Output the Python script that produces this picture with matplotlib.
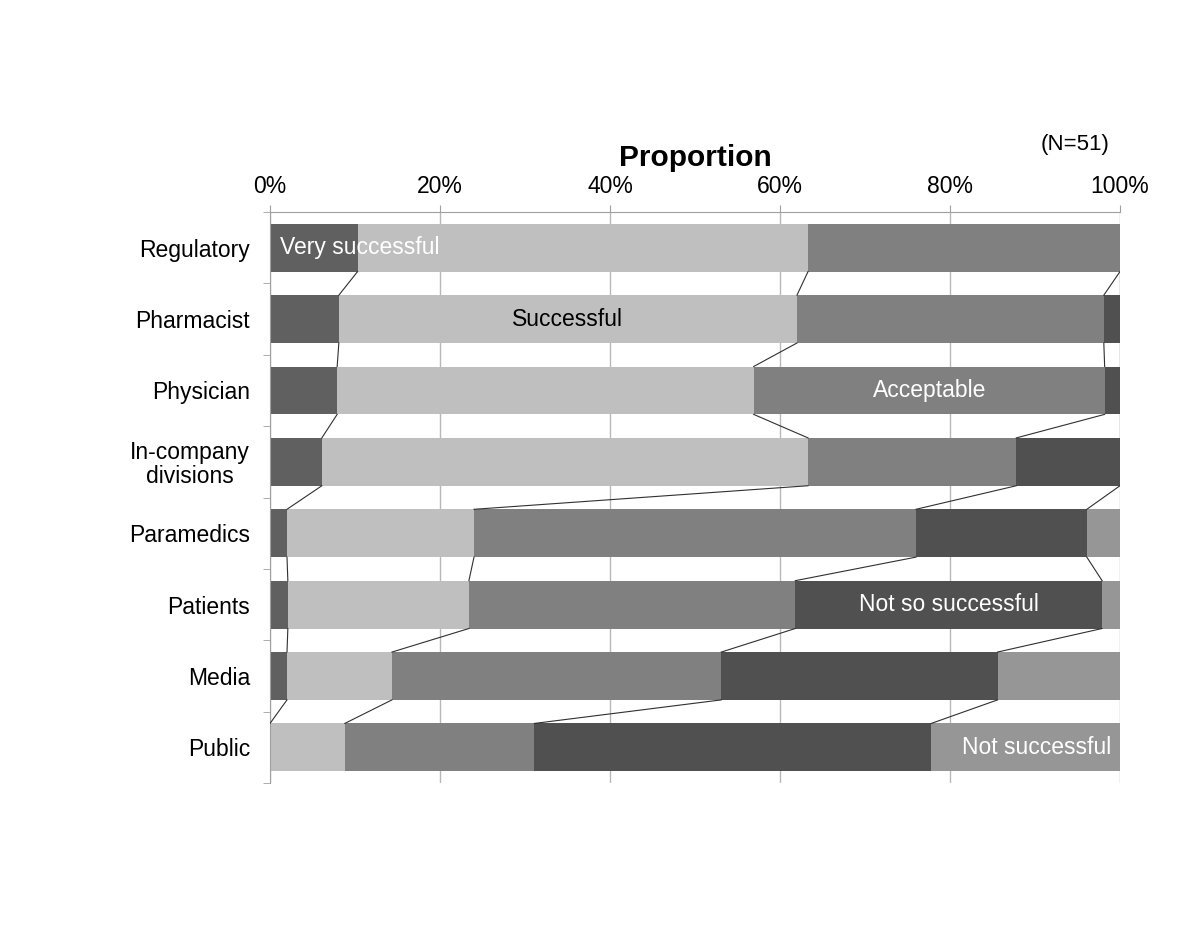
import matplotlib.pyplot as plt
import numpy as np

plt.rcParams["font.family"] = ["Liberation Sans", "DejaVu Sans"]

categories = ["Regulatory", "Pharmacist", "Physician", "In-company\ndivisions",
              "Paramedics", "Patients", "Media", "Public"]
series = ["Very successful", "Successful", "Acceptable",
          "Not so successful", "Not successful"]
very_successful = [10.3, 8.1, 7.9, 6.1, 2.0, 2.1, 2.0, 0.0]
successful = [53.0, 53.9, 49.0, 57.2, 22.0, 21.3, 12.35, 8.8]
acceptable = [36.7, 36.1, 41.3, 24.5, 52.0, 38.4, 38.75, 22.3]
not_so_successful = [0.0, 1.9, 1.8, 12.2, 20.1, 36.1, 32.5, 46.7]
not_successful = [0.0, 0.0, 0.0, 0.0, 3.9, 2.1, 14.4, 22.2]
colors = ["#606060", "#bfbfbf", "#808080", "#505050", "#969696"]


def main():
    values = np.array([very_successful, successful, acceptable,
                       not_so_successful, not_successful])
    cum = np.cumsum(values, axis=0)
    starts = cum - values
    y = np.arange(len(categories))
    h = 0.67
    fs = 16.5

    fig = plt.figure(figsize=(12, 9.27), dpi=100)
    ax = fig.add_axes([0.225, 0.1553, 0.7083, 0.616])

    for i in range(len(series)):
        ax.barh(y, values[i], left=starts[i], height=h, color=colors[i],
                edgecolor="none", zorder=2)

    # series lines between bars
    for i in range(len(series) - 1):
        for j in range(len(categories) - 1):
            ax.plot([cum[i, j], cum[i, j + 1]], [j + h / 2, j + 1 - h / 2],
                    color="#303030", lw=0.8, zorder=3)

    ax.set_xlim(0, 100)
    ax.set_ylim(len(categories) - 0.5, -0.5)
    ax.xaxis.tick_top()
    ax.set_xticks(np.arange(0, 101, 20))
    ax.set_xticklabels([f"{v}%" for v in range(0, 101, 20)], fontsize=fs)
    ax.tick_params(axis="x", colors="#a0a0a0", length=5, labelcolor="black",
                   pad=5)
    ax.set_yticks(y)
    ax.set_yticklabels(categories, fontsize=fs, multialignment="center",
                       linespacing=1.05)
    ax.tick_params(axis="y", length=0, pad=14.4)
    ax.set_yticks(np.arange(-0.5, len(categories)), minor=True)
    ax.tick_params(axis="y", which="minor", length=5, colors="#a0a0a0")
    ax.grid(axis="x", color="#b8b8b8", lw=1, zorder=0)
    for s in ["right", "bottom"]:
        ax.spines[s].set_visible(False)
    for s in ["top", "left"]:
        ax.spines[s].set_color("#a0a0a0")

    ax.set_title("Proportion", fontsize=21.5, fontweight="bold", pad=33)
    fig.text(0.896, 0.838, "(N=51)", fontsize=16, ha="center")

    # data labels
    ax.text(1.2, 0, series[0], color="white", fontsize=fs, va="center",
            ha="left", zorder=4)
    ax.text((starts[1, 1] + cum[1, 1]) / 2, 1, series[1], color="black",
            fontsize=fs, va="center", ha="center", zorder=4)
    ax.text((starts[2, 2] + cum[2, 2]) / 2, 2, series[2], color="white",
            fontsize=fs, va="center", ha="center", zorder=4)
    ax.text((starts[3, 5] + cum[3, 5]) / 2, 5, series[3], color="white",
            fontsize=fs, va="center", ha="center", zorder=4)
    ax.text(99, 7, series[4], color="white", fontsize=fs, va="center",
            ha="right", zorder=4)

    fig.savefig("out.png", dpi=100)


if __name__ == "__main__":
    main()
